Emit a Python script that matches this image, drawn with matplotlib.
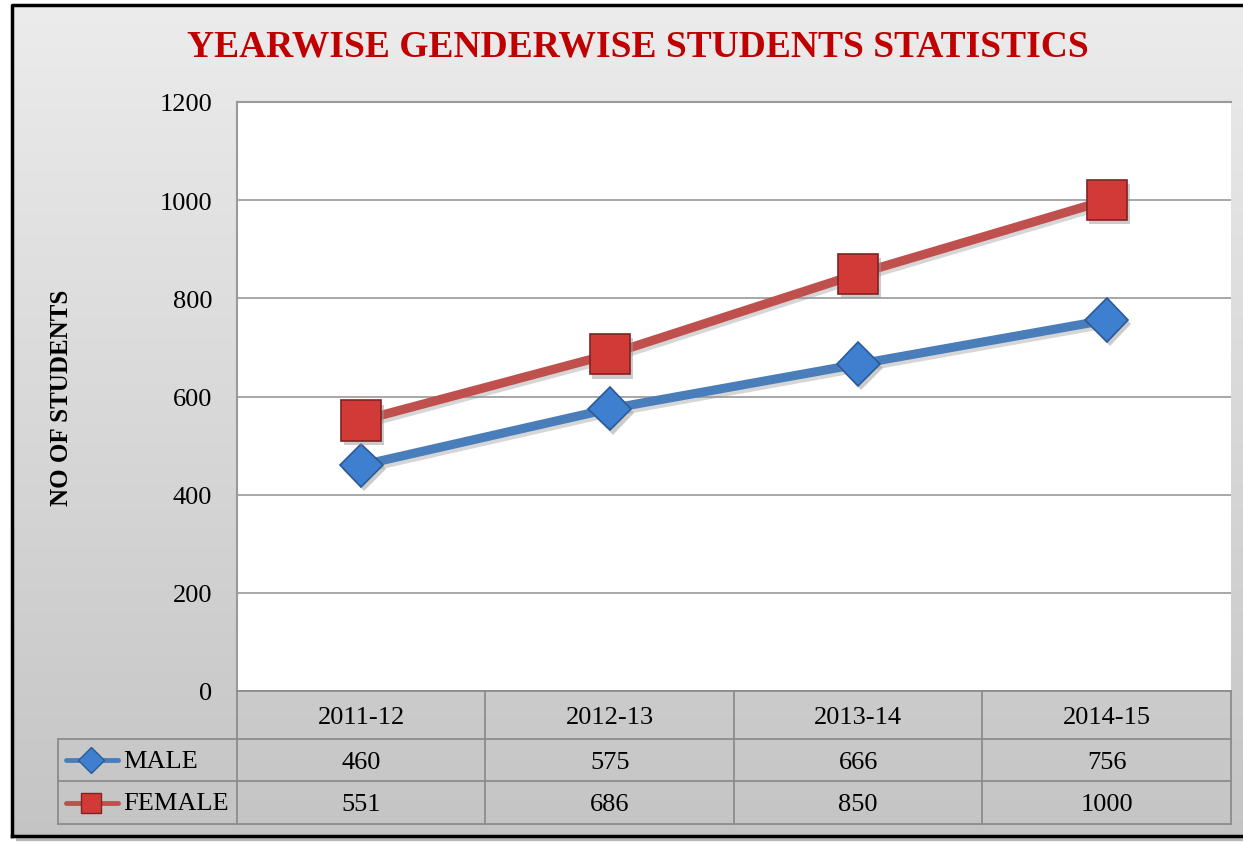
import numpy as np
import matplotlib
matplotlib.use("Agg")
import matplotlib.pyplot as plt
from matplotlib.patches import Rectangle
import matplotlib.patheffects as pe

years = ["2011-12", "2012-13", "2013-14", "2014-15"]
male = [460, 575, 666, 756]
female = [551, 686, 850, 1000]
series_names = ["MALE", "FEMALE"]
yticks = [0, 200, 400, 600, 800, 1000, 1200]

W, H = 1243, 845
fig = plt.figure(figsize=(W / 100, H / 100), dpi=100)
SERIF = ["Liberation Serif", "DejaVu Serif"]
FS = 19

# background overlay axes in pixel coordinates
bg = fig.add_axes([0, 0, 1, 1])
bg.set_xlim(0, W)
bg.set_ylim(H, 0)
bg.axis("off")
bg.add_patch(Rectangle((0, 0), W, H, color="white", zorder=0))
bg.add_patch(Rectangle((16, 10), W, 831, color="#b8b8b8", zorder=0.5))
grad = np.linspace(0, 1, 256).reshape(-1, 1)
top = np.array([0.925, 0.925, 0.925])
bot = np.array([0.77, 0.77, 0.77])
img = top + (bot - top) * grad[..., None]
bg.imshow(img, extent=(12, W + 5, 837, 6), aspect="auto", zorder=1)
bg.plot([12, 12, W + 5], [837, 6, 6], color="black", lw=2.5, zorder=2)
bg.plot([12, W + 5], [837, 837], color="black", lw=2.5, zorder=2)

# main plot
L, R, T, B = 237, 1231, 103, 692
ax = fig.add_axes([L / W, 1 - B / H, (R - L) / W, (B - T) / H])
ax.set_facecolor("white")
x = np.arange(len(years))
ax.set_xlim(-0.5, len(years) - 0.5)
ax.set_ylim(0, 1200)
ax.set_yticks(yticks)
ax.set_yticklabels([str(v) for v in yticks], fontsize=FS, family=SERIF)
ax.tick_params(axis="y", length=0, pad=18)
ax.set_xticks([])
ax.grid(axis="y", color="#a0a0a0", lw=1.3)
ax.set_axisbelow(True)
for s in ["right", "bottom"]:
    ax.spines[s].set_visible(False)
for s in ["left", "top"]:
    ax.spines[s].set_color("#9a9a9a")
    ax.spines[s].set_linewidth(1.5)

shadow = [pe.SimplePatchShadow(offset=(2, -3), shadow_rgbFace="#999999", alpha=0.5), pe.Normal()]
line_shadow = [pe.SimpleLineShadow(offset=(1.5, -2.5), shadow_color="#999999", alpha=0.4), pe.Normal()]

ax.plot(x, male, color="#4a7ebb", lw=6.5, solid_capstyle="round", zorder=3, path_effects=line_shadow)
ax.plot(x, female, color="#c0504d", lw=6.5, solid_capstyle="round", zorder=3, path_effects=line_shadow)
ax.plot(x, male, ls="none", marker="D", ms=22, mfc="#3f7fd0", mec="#2a5a96", mew=1.2, zorder=4,
        path_effects=shadow)
ax.plot(x, female, ls="none", marker="s", ms=29, mfc="#d23a37", mec="#7e2422", mew=1.2, zorder=4,
        path_effects=shadow)

ax.set_ylabel("NO OF STUDENTS", fontsize=18, fontweight="bold", family=SERIF)
ax.yaxis.set_label_coords(-(L - 73) / (R - L), 0.5)

fig.text((190 + 1085) / 2 / W, 1 - 47 / H, "YEARWISE GENDERWISE STUDENTS STATISTICS",
         ha="center", va="center", fontsize=27, fontweight="bold", color="#c00000", family=SERIF)

# data table in pixel coords
tb = fig.add_axes([0, 0, 1, 1], facecolor="none")
tb.set_xlim(0, W)
tb.set_ylim(H, 0)
tb.axis("off")
gc = "#8c8c8c"
colx = [L + (R - L) * i / len(years) for i in range(len(years) + 1)]
ry = [692, 740, 782, 825]
tl = 58
tb.plot([L, R], [ry[0], ry[0]], color=gc, lw=1.3)
for yy in ry[1:]:
    tb.plot([tl, R], [yy, yy], color=gc, lw=1.3)
for xx in colx:
    tb.plot([xx, xx], [ry[0], ry[3]], color=gc, lw=1.3)
tb.plot([tl, tl], [ry[1], ry[3]], color=gc, lw=1.3)

for i, yr in enumerate(years):
    cx = (colx[i] + colx[i + 1]) / 2
    tb.text(cx, (ry[0] + ry[1]) / 2 + 2, yr, ha="center", va="center", fontsize=FS, family=SERIF)
    tb.text(cx, (ry[1] + ry[2]) / 2 + 2, str(male[i]), ha="center", va="center", fontsize=FS, family=SERIF)
    tb.text(cx, (ry[2] + ry[3]) / 2 + 2, str(female[i]), ha="center", va="center", fontsize=FS, family=SERIF)

styles = [("#4a7ebb", "D", "#3f7fd0", "#2a5a96", 13), ("#c0504d", "s", "#d23a37", "#7e2422", 15)]
for k, name in enumerate(series_names):
    yc = (ry[k + 1] + ry[k + 2]) / 2
    col, mk, fc, ec, ms = styles[k]
    tb.plot([66, 118], [yc, yc], color=col, lw=3.5, solid_capstyle="round")
    tb.plot([91], [yc], marker=mk, ms=ms, mfc=fc, mec=ec, mew=1)
    tb.text(123, yc + 1, name, ha="left", va="center", fontsize=FS, family=SERIF)

fig.savefig("out.png", dpi=100)
